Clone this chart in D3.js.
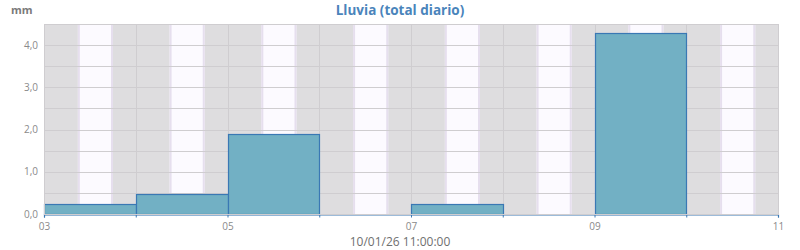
<!DOCTYPE html>
<html>
  <head>
    <meta http-equiv="Content-Type" content="text/html;charset=utf-8"/>
    <script src="https://d3js.org/d3.v7.min.js"></script>
    <style type="text/css">
    body { margin: 0; background: #fff; }
    text { font-family: "Open Sans", "DejaVu Sans", sans-serif; }
    .grid-line { stroke: #cfcdd0; stroke-width: 1px; }
    </style>
  </head>
  <body>
    <script type="text/javascript">
      // daily rain totals, one bar per day starting at the given day (Jan 2026)
      var days = ["2026-01-03", "2026-01-04", "2026-01-05", "2026-01-06",
                  "2026-01-07", "2026-01-08", "2026-01-09", "2026-01-10"];
      var rain = [0.24, 0.47, 1.89, 0, 0.24, 0, 4.28, 0];
      // hours of sunrise / sunset used for the day bands
      var sunrise = 8.85;
      var sunset = 18.05;
      var yTicks = [0, 1, 2, 3, 4];
      var xTickLabels = ["03", "05", "07", "09", "11"];
      var title = "Lluvia (total diario)";
      var unit = "mm";
      var footer = "10/01/26 11:00:00";

      var width = 800, height = 250;
      var margin = {top: 24, right: 22, bottom: 36, left: 44};
      var innerW = width - margin.left - margin.right;
      var innerH = height - margin.top - margin.bottom;

      var parse = d3.timeParse("%Y-%m-%d");
      var start = parse("2026-01-03");
      var end = parse("2026-01-11");

      var x = d3.scaleTime().domain([start, end]).range([0, innerW]);
      var y = d3.scaleLinear().domain([0, 4.5]).range([innerH, 0]);

      var svg = d3.select("body").append("svg")
          .attr("width", width)
          .attr("height", height);

      svg.append("text")
          .attr("x", 400).attr("y", 15)
          .attr("text-anchor", "middle")
          .style("font-size", "13.5px")
          .style("font-weight", "bold")
          .style("fill", "#4a84bb")
          .text(title);

      svg.append("text")
          .attr("x", 11).attr("y", 14)
          .style("font-size", "11px")
          .style("font-weight", "bold")
          .style("fill", "#7a7a7a")
          .text(unit);

      svg.append("text")
          .attr("x", 400).attr("y", 246)
          .attr("text-anchor", "middle")
          .style("font-size", "12px")
          .style("fill", "#6f6f6f")
          .text(footer);

      var g = svg.append("g")
          .attr("transform", "translate(" + margin.left + "," + margin.top + ")");

      // night background
      g.append("rect")
          .attr("width", innerW).attr("height", innerH)
          .style("fill", "#dedddf");

      // day bands
      var allDays = d3.timeDay.range(start, end);
      allDays.forEach(function(d) {
        var x0 = x(d3.timeMinute.offset(d, Math.round(sunrise * 60)));
        var x1 = x(d3.timeMinute.offset(d, Math.round(sunset * 60)));
        g.append("rect")
            .attr("x", x0).attr("y", 0)
            .attr("width", x1 - x0).attr("height", innerH)
            .style("fill", "#fcfaff");
        [x0 + 1, x1 - 1].forEach(function(xx) {
          g.append("line")
              .attr("x1", xx).attr("x2", xx)
              .attr("y1", 0).attr("y2", innerH)
              .style("stroke", "#e6dfee")
              .style("stroke-width", 2);
        });
      });

      // grid
      var yGrid = d3.range(0, 4.51, 0.5);
      g.selectAll("line.hgrid").data(yGrid).enter().append("line")
          .attr("class", "grid-line hgrid")
          .attr("x1", 0).attr("x2", innerW)
          .attr("y1", function(d) { return Math.round(y(d)) + 0.5; })
          .attr("y2", function(d) { return Math.round(y(d)) + 0.5; });

      g.selectAll("line.vgrid").data(allDays.concat([end])).enter().append("line")
          .attr("class", "grid-line vgrid")
          .attr("x1", function(d) { return Math.round(x(d)) + 0.5; })
          .attr("x2", function(d) { return Math.round(x(d)) + 0.5; })
          .attr("y1", 0).attr("y2", innerH);

      // bars
      g.selectAll("rect.bar").data(days).enter().append("rect")
          .attr("class", "bar")
          .attr("x", function(d) { return Math.round(x(parse(d))) + 0.5; })
          .attr("width", function(d) {
            var p = parse(d);
            return Math.round(x(d3.timeDay.offset(p, 1))) - Math.round(x(p));
          })
          .attr("y", function(d, i) { return Math.round(y(rain[i])) + 0.5; })
          .attr("height", function(d, i) { return Math.round(innerH - y(rain[i])); })
          .style("fill", "#72b0c4")
          .style("stroke", "#3a78b4")
          .style("stroke-width", 1.2);

      // x axis
      var xAxis = d3.axisBottom(x)
          .tickValues(allDays.concat([end]))
          .tickSize(3)
          .tickFormat(function(d) {
            var s = d3.timeFormat("%d")(d);
            return xTickLabels.indexOf(s) >= 0 ? s : "";
          });
      var xg = g.append("g")
          .attr("transform", "translate(0," + (innerH + 0.5) + ")")
          .call(xAxis);
      xg.select(".domain").style("stroke", "#3a78b4").style("stroke-width", 1.2);
      xg.selectAll(".tick line").style("stroke", "#3a78b4");
      xg.selectAll(".tick text")
          .attr("y", 8)
          .style("font-size", "10px")
          .style("font-family", "'Open Sans', sans-serif")
          .style("fill", "#8a8a8a");

      // y axis labels
      var fmt = function(v) { return d3.format(".1f")(v).replace(".", ","); };
      var yAxis = d3.axisLeft(y).tickValues(yTicks).tickSize(0).tickPadding(6).tickFormat(fmt);
      var yg = g.append("g").call(yAxis);
      yg.select(".domain").remove();
      yg.selectAll(".tick text")
          .style("font-size", "10px")
          .style("font-family", "'Open Sans', sans-serif")
          .style("fill", "#8a8a8a");

      // top border
      g.append("rect")
          .attr("x", 0.5).attr("y", 0.5)
          .attr("width", innerW).attr("height", innerH)
          .style("fill", "none")
          .style("stroke", "#cfcdd0");
    </script>
  </body>
</html>
